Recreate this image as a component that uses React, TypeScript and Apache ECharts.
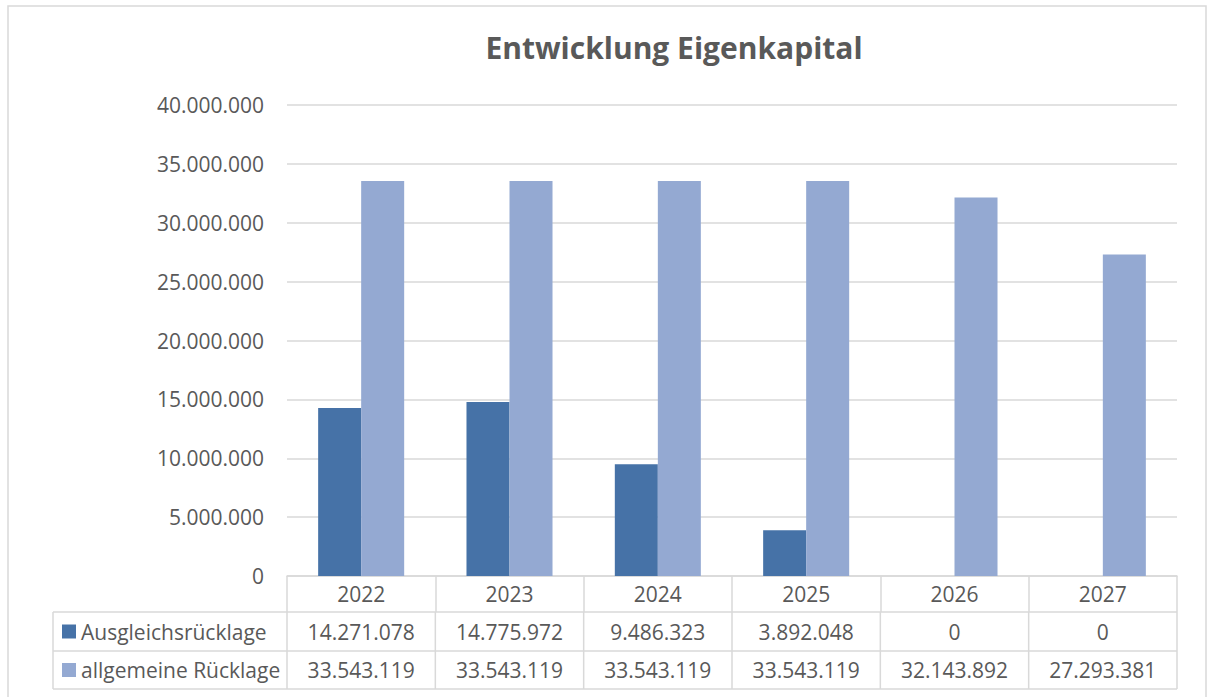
import React, { useEffect, useRef } from "react";
import * as echarts from "echarts";

const categories = ["2022", "2023", "2024", "2025", "2026", "2027"];
const seriesNames = ["Ausgleichsrücklage", "allgemeine Rücklage"];
const ausgleichsruecklage = [14271078, 14775972, 9486323, 3892048, 0, 0];
const allgemeineRuecklage = [33543119, 33543119, 33543119, 33543119, 32143892, 27293381];
const yMin = 0;
const yMax = 40000000;
const yInterval = 5000000;

const colors = ["#4672A7", "#94A9D2"];
const textColor = "#595959";
const lineColor = "#D9D9D9";
const FONT = "'Open Sans', Lato, sans-serif";

const fmt = (n: number) => String(n).replace(/\B(?=(\d{3})+(?!\d))/g, ".");

// layout constants
const W = 1208;
const H = 697;
const gridLeft = 287;
const gridRight = 1177;
const gridTop = 105;
const gridBottom = 576;
const row0 = 612;
const row1 = 651;
const row2 = 689;
const tableLeft = 53;
const FS = 21;

export default function App() {
  const ref = useRef<HTMLDivElement>(null);
  useEffect(() => {
    if (!ref.current) return;
    const chart = echarts.init(ref.current, null, { renderer: "svg" });
    const catW = (gridRight - gridLeft) / categories.length;
    const rowsData = [ausgleichsruecklage, allgemeineRuecklage];
    const rowTops = [row0, row1];
    const rowBottoms = [row1, row2];

    const graphics: any[] = [];
    graphics.push({
      type: "rect",
      shape: { x: 8, y: 6, width: 1198, height: 720 },
      style: { fill: "none", stroke: lineColor, lineWidth: 1.5 },
      silent: true,
    });
    [row0, row1, row2].forEach((y) => {
      graphics.push({
        type: "line",
        shape: { x1: tableLeft, y1: y, x2: gridRight, y2: y },
        style: { stroke: lineColor, lineWidth: 1.5 },
        silent: true,
      });
    });
    for (let i = 0; i <= categories.length; i++) {
      const x = gridLeft + i * catW;
      graphics.push({
        type: "line",
        shape: { x1: x, y1: row0, x2: x, y2: row2 },
        style: { stroke: lineColor, lineWidth: 1.5 },
        silent: true,
      });
    }
    graphics.push({
      type: "line",
      shape: { x1: tableLeft, y1: row0, x2: tableLeft, y2: row2 },
      style: { stroke: lineColor, lineWidth: 1.5 },
      silent: true,
    });
    rowsData.forEach((vals, r) => {
      const cy = (rowTops[r] + rowBottoms[r]) / 2;
      graphics.push({
        type: "rect",
        shape: { x: 62, y: cy - 7, width: 14, height: 14 },
        style: { fill: colors[r] },
        silent: true,
      });
      graphics.push({
        type: "text",
        x: 81,
        y: cy,
        style: {
          text: seriesNames[r],
          fill: textColor,
          font: `${FS}px ${FONT}`,
          textAlign: "left",
          textVerticalAlign: "middle",
        },
        silent: true,
      });
      vals.forEach((v, i) => {
        graphics.push({
          type: "text",
          x: gridLeft + (i + 0.5) * catW,
          y: cy,
          style: {
            text: fmt(v),
            fill: textColor,
            font: `${FS}px ${FONT}`,
            textAlign: "center",
            textVerticalAlign: "middle",
          },
          silent: true,
        });
      });
    });

    chart.setOption({
      animation: false,
      title: {
        text: "Entwicklung Eigenkapital",
        left: 674,
        top: 32,
        textAlign: "center",
        padding: 0,
        textStyle: { fontFamily: FONT, fontSize: 30, fontWeight: "bold", color: textColor },
      },
      grid: {
        left: gridLeft,
        right: W - gridRight,
        top: gridTop,
        bottom: H - gridBottom,
        containLabel: false,
      },
      xAxis: {
        type: "category",
        data: categories,
        axisLine: { show: true, lineStyle: { color: lineColor, width: 1.5 } },
        axisTick: {
          show: true,
          inside: false,
          length: row0 - gridBottom,
          interval: 0,
          lineStyle: { color: lineColor, width: 1.5 },
        },
        axisLabel: {
          interval: 0,
          color: textColor,
          fontFamily: FONT,
          fontSize: FS,
          margin: 7,
        },
      },
      yAxis: {
        type: "value",
        min: yMin,
        max: yMax,
        interval: yInterval,
        axisLine: { show: false },
        axisTick: { show: false },
        splitLine: { lineStyle: { color: lineColor, width: 1.5 } },
        axisLabel: {
          color: textColor,
          fontFamily: FONT,
          fontSize: FS,
          margin: 23,
          formatter: (v: number) => fmt(v),
        },
      },
      series: [
        {
          name: seriesNames[0],
          type: "bar",
          data: ausgleichsruecklage,
          itemStyle: { color: colors[0] },
          barGap: "0%",
          barCategoryGap: "42%",
        },
        {
          name: seriesNames[1],
          type: "bar",
          data: allgemeineRuecklage,
          itemStyle: { color: colors[1] },
          barGap: "0%",
          barCategoryGap: "42%",
        },
      ],
      graphic: graphics,
    });
    return () => chart.dispose();
  }, []);
  return (
    <div
      ref={ref}
      style={{ position: "absolute", left: 0, top: 0, width: W, height: H, background: "#fff" }}
    />
  );
}
